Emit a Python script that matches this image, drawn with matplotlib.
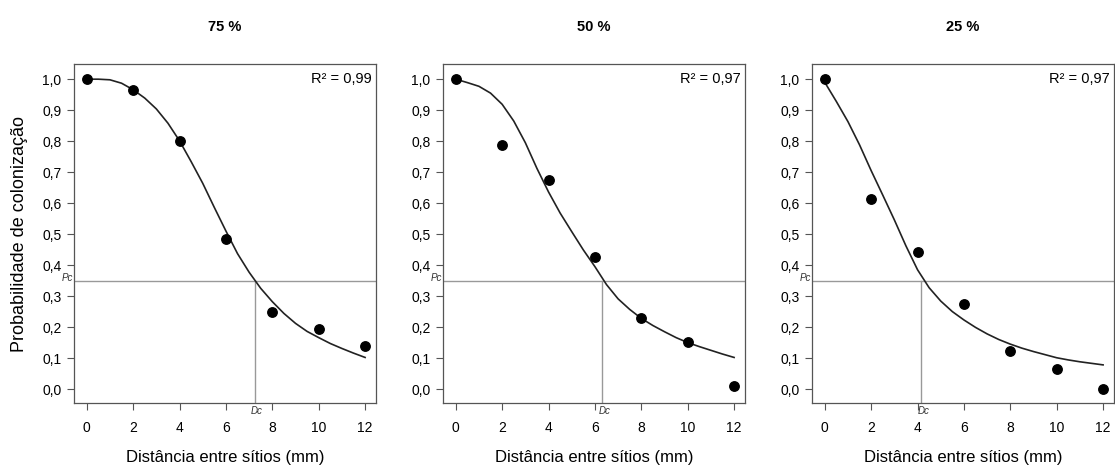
import matplotlib
matplotlib.use("Agg")
import matplotlib.pyplot as plt
import matplotlib.ticker as ticker

plt.rcParams['font.family'] = ['Liberation Sans', 'DejaVu Sans']

# observed points
dist = [0, 2, 4, 6, 8, 10, 12]
prob_75 = [1.0, 0.966, 0.80, 0.485, 0.25, 0.195, 0.14]
prob_50 = [1.0, 0.787, 0.674, 0.427, 0.23, 0.153, 0.01]
prob_25 = [1.0, 0.613, 0.442, 0.275, 0.124, 0.064, 0.0]

# fitted curves
curve_x = [0, 0.5, 1, 1.5, 2, 2.5, 3, 3.5, 4, 4.5, 5, 5.5, 6,
           6.5, 7, 7.5, 8, 8.5, 9, 9.5, 10, 10.5, 11, 11.5, 12]
fit_75 = [1.0, 1.0, 0.998, 0.987, 0.966, 0.939, 0.904, 0.858, 0.801, 0.734, 0.664, 0.586, 0.51,
          0.437, 0.377, 0.325, 0.282, 0.244, 0.212, 0.186, 0.166, 0.147, 0.131, 0.116, 0.102]
fit_50 = [1.0, 0.989, 0.977, 0.955, 0.919, 0.865, 0.795, 0.712, 0.636, 0.568, 0.508, 0.449, 0.395,
          0.337, 0.291, 0.257, 0.228, 0.205, 0.185, 0.166, 0.150, 0.137, 0.125, 0.113, 0.102]
fit_25 = [0.99, 0.928, 0.863, 0.788, 0.705, 0.626, 0.546, 0.462, 0.385, 0.327, 0.284, 0.25, 0.223,
          0.199, 0.178, 0.16, 0.145, 0.132, 0.121, 0.111, 0.101, 0.094, 0.088, 0.083, 0.078]

titles = ["75 %", "50 %", "25 %"]
r2_labels = ["R² = 0,99", "R² = 0,97", "R² = 0,97"]
pc = 0.35
dc_values = [7.24, 6.3, 4.17]

panels = [(prob_75, fit_75), (prob_50, fit_50), (prob_25, fit_25)]
lefts = [74, 443, 812]
W, H = 1115, 470

fig = plt.figure(figsize=(W / 100, H / 100), dpi=100)
spine_col = "#555555"
for i, (obs, fit) in enumerate(panels):
    ax = fig.add_axes([lefts[i] / W, 1 - 403 / H, 302 / W, (403 - 64) / H])
    ax.set_xlim(-0.55, 12.47)
    ax.set_ylim(-0.045, 1.049)
    ax.axhline(pc, color="#999999", lw=1.0, zorder=1)
    ax.plot([dc_values[i], dc_values[i]], [-0.045, pc], color="#999999", lw=1.0, zorder=1)
    ax.plot(curve_x, fit, color="#222222", lw=1.2, zorder=2)
    ax.plot(dist, obs, "o", color="black", ms=6.8, zorder=3, clip_on=False)
    ax.set_xticks(range(0, 13, 2))
    ax.set_yticks([k / 10 for k in range(11)])
    ax.yaxis.set_major_formatter(ticker.FuncFormatter(lambda v, p: f"{v:.1f}".replace(".", ",")))
    ax.tick_params(direction="out", length=5, width=0.8, color=spine_col, labelsize=10, pad=4)
    ax.tick_params(axis="x", pad=8)
    for s in ax.spines.values():
        s.set_color(spine_col)
        s.set_linewidth(0.9)
    ax.set_title(titles[i], fontsize=10.5, fontweight="bold", pad=24)
    ax.set_xlabel("Distância entre sítios (mm)", fontsize=12, labelpad=11)
    if i == 0:
        ax.set_ylabel("Probabilidade de colonização", fontsize=13, labelpad=10)
    ax.text(0.985, 0.955, r2_labels[i], transform=ax.transAxes, ha="right", va="center", fontsize=10.5)
    ax.text(-0.003, pc + 0.008, "Pc", transform=ax.get_yaxis_transform(), ha="right", va="center",
            fontsize=7, style="italic", color="#333333")
    ax.text(dc_values[i] + 0.1, -0.024, "Dc", transform=ax.get_xaxis_transform(), ha="center", va="center",
            fontsize=7, style="italic", color="#333333")

fig.savefig("out.png", dpi=100)
